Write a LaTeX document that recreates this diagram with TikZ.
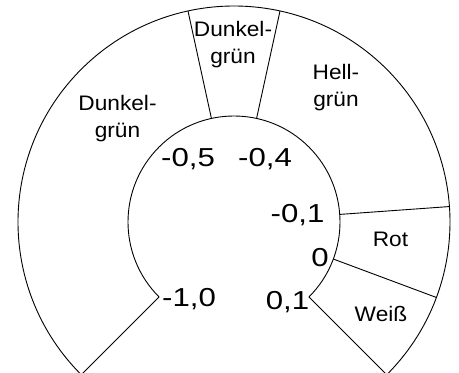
\documentclass[tikz,border=0pt]{standalone}
\usepackage{fontspec}
\setmainfont{Liberation Sans}
\newfontfamily\numfont[FakeStretch=1.2]{Liberation Sans}
\newfontfamily\labfont[FakeStretch=1.08]{Liberation Sans}
\usetikzlibrary{calc}
\tikzset{
  ring/.style={draw=black, line width=0.9pt, line join=miter},
  divider/.style={draw=black, line width=0.9pt},
  lab/.style={inner sep=0pt, align=center, font=\labfont\fontsize{21}{27}\selectfont},
  num/.style={inner sep=0pt, anchor=base, font=\numfont\fontsize{26}{30}\selectfont},
}
\begin{document}
\begin{tikzpicture}[x=1pt,y=1pt]
\useasboundingbox (0,0) rectangle (459,373);
\coordinate (C) at (234,151);
% ring boundary points
\coordinate (i1) at ($(C)+(225:106pt)$);
\coordinate (o1) at ($(C)+(225:216pt)$);
\coordinate (i2) at ($(C)+(-45:106pt)$);
% ring outline
\draw[ring] (i1) -- (o1) arc[start angle=225, end angle=-45, radius=216pt]
  -- (i2) arc[start angle=-45, end angle=225, radius=106pt] -- cycle;
% dividers
\foreach \a/\n in {102.3/a, 77.7/b, 4.1/c, -20.45/d}{
  \coordinate (di\n) at ($(C)+(\a:106pt)$);
  \coordinate (do\n) at ($(C)+(\a:216pt)$);
  \draw[divider] (di\n) -- (do\n);
}
% segment labels
\node[lab] (dg1) at (117.5,254) {Dunkel-\\grün};
\node[lab] (dg2) at (233,328) {Dunkel-\\grün};
\node[lab] (hg) at (336,285) {Hell-\\grün};
\node[lab, anchor=base] (rot) at (390.5,126) {Rot};
\node[lab, anchor=base] (weiss) at (381,51) {Weiß};
% scale numbers
\node[num] (n05) at (188,206) {-0,5};
\node[num] (n04) at (265,206) {-0,4};
\node[num] (n01) at (297.5,150) {-0,1};
\node[num] (n0) at (320,106) {0};
\node[num] (p01) at (287.5,63) {0,1};
\node[num] (n10) at (189,66) {-1,0};
\end{tikzpicture}
\end{document}
